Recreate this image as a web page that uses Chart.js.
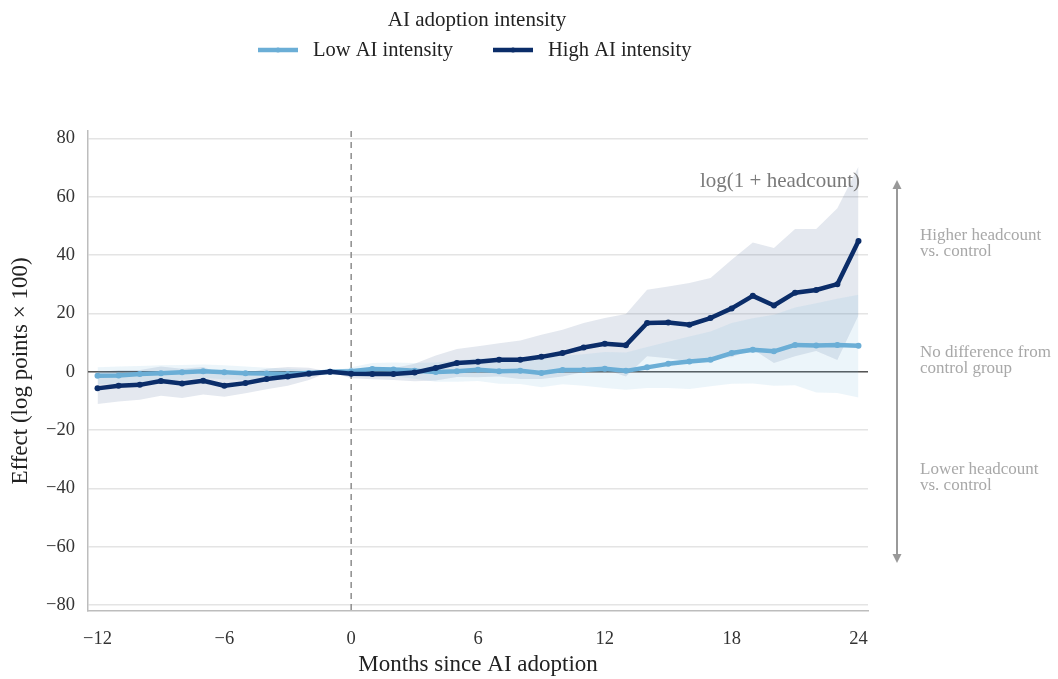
<!DOCTYPE html>
<html>
<head>
<meta charset="utf-8">
<script src="https://cdn.jsdelivr.net/npm/chart.js@4.4.1/dist/chart.umd.min.js"></script>
<style>
  html, body { margin: 0; padding: 0; background: #ffffff; }
  #wrap { width: 1058px; height: 679px; position: relative; }
</style>
</head>
<body>
<div id="wrap"><canvas id="c" width="1058" height="679"></canvas></div>
<script>
// Event-study estimates: months relative to AI adoption
const months = [-12, -11, -10, -9, -8, -7, -6, -5, -4, -3, -2, -1, 0, 1, 2, 3, 4, 5, 6, 7, 8, 9, 10, 11, 12, 13, 14, 15, 16, 17, 18, 19, 20, 21, 22, 23, 24];

// Low AI intensity: point estimate and 95% interval
const lowEst = [-1.4, -1.3, -0.8, -0.5, -0.2, 0.2, -0.2, -0.5, -0.6, -0.8, -0.4, 0, 0.2, 0.9, 0.8, 0.3, -0.1, 0.2, 0.7, 0.2, 0.3, -0.4, 0.6, 0.6, 1.0, 0.3, 1.5, 2.7, 3.5, 4.1, 6.4, 7.5, 7.0, 9.2, 9.0, 9.2, 8.9];
const lowUpper = [1.5, 1.8, 2.0, 2.2, 2.3, 2.5, 2.2, 1.8, 1.4, 1.0, 0.6, 0, 1.5, 3.0, 3.2, 3.0, 3.2, 3.8, 4.6, 4.5, 4.8, 4.5, 5.5, 6.0, 6.8, 6.6, 8.5, 10.3, 12.1, 13.8, 16.7, 18.3, 19.5, 22.0, 23.5, 25.0, 26.4];
const lowLower = [-4.3, -4.4, -3.6, -3.2, -2.7, -2.1, -2.6, -2.8, -2.6, -2.6, -1.4, 0, -1.1, -1.2, -1.6, -2.4, -3.4, -3.4, -3.2, -4.1, -4.2, -5.3, -4.3, -4.8, -5.6, -6.2, -5.6, -5.6, -5.9, -5.0, -4.1, -4.0, -4.8, -4.6, -7.1, -7.3, -8.8];

// High AI intensity: point estimate and 95% interval
const highEst = [-5.7, -4.8, -4.5, -3.2, -4.0, -3.1, -4.8, -3.9, -2.5, -1.6, -0.7, 0, -0.7, -0.8, -0.8, -0.3, 1.3, 3.0, 3.4, 4.1, 4.1, 5.1, 6.4, 8.3, 9.6, 9.1, 16.7, 16.9, 16.1, 18.4, 21.7, 26.0, 22.7, 27.1, 28.0, 30.0, 44.8];
const highUpper = [-0.3, 0.6, 0.6, 1.8, 1.0, 1.6, -1.0, -0.4, 1.0, 1.6, 1.4, 0, 0.8, 1.0, 1.2, 2.7, 5.6, 7.8, 8.7, 9.8, 10.7, 12.7, 14.4, 16.7, 18.4, 19.8, 28.1, 29.2, 30.4, 32.1, 38.4, 44.3, 42.4, 48.9, 48.9, 56.0, 70.3];
const highLower = [-11.1, -10.2, -9.6, -8.2, -9.0, -7.8, -8.6, -7.4, -6.0, -4.8, -2.8, 0, -2.2, -2.6, -2.8, -3.3, -3.0, -1.8, -1.9, -1.6, -2.5, -2.5, -1.6, -0.1, 0.8, -1.6, 5.3, 4.6, 3.5, 4.7, 5.0, 7.7, 3.0, 5.3, 7.1, 4.0, 19.3];

// Axis ticks
const xTicks = [-12, -6, 0, 6, 12, 18, 24];
const yTicks = [-80, -60, -40, -20, 0, 20, 40, 60, 80];

// Legend and annotation text
const legendTitle = 'AI adoption intensity';
const seriesNames = ['Low AI intensity', 'High AI intensity'];
const panelLabel = 'log(1 + headcount)';
const sideNotes = [
  { y: 40, lines: ['Higher headcount', 'vs. control'] },
  { y: 0, lines: ['No difference from', 'control group'] },
  { y: -40, lines: ['Lower headcount', 'vs. control'] }
];

const LOW_COLOR = '#6baed6';
const HIGH_COLOR = '#0b2d69';
const SERIF = '"Liberation Serif", "DejaVu Serif", serif';

const pts = (ys) => months.map((m, i) => ({ x: m, y: ys[i] }));
const minus = (v) => String(v).replace('-', '\u2212');

const decorations = {
  id: 'decorations',
  beforeDatasetsDraw(chart) {
    const { ctx, chartArea: a, scales: { x, y } } = chart;
    ctx.save();
    // reference line at zero effect
    const y0 = y.getPixelForValue(0);
    ctx.strokeStyle = '#555555';
    ctx.lineWidth = 1.5;
    ctx.beginPath();
    ctx.moveTo(a.left, y0);
    ctx.lineTo(a.right, y0);
    ctx.stroke();
    // adoption month marker
    const x0 = x.getPixelForValue(0);
    ctx.strokeStyle = '#8c8c8c';
    ctx.setLineDash([6, 5]);
    ctx.beginPath();
    ctx.moveTo(x0, a.top);
    ctx.lineTo(x0, a.bottom);
    ctx.stroke();
    ctx.restore();
  },
  afterDraw(chart) {
    const { ctx, chartArea: a, scales: { y } } = chart;
    ctx.save();
    // legend
    ctx.fillStyle = '#222222';
    ctx.font = '21px ' + SERIF;
    ctx.textAlign = 'center';
    ctx.textBaseline = 'middle';
    ctx.fillText(legendTitle, 477, 20);
    ctx.font = '20.5px ' + SERIF;
    const items = [
      { x: 258, color: LOW_COLOR, text: seriesNames[0] },
      { x: 493, color: HIGH_COLOR, text: seriesNames[1] }
    ];
    items.forEach(it => {
      ctx.strokeStyle = it.color;
      ctx.lineWidth = 4.5;
      ctx.beginPath();
      ctx.moveTo(it.x, 50);
      ctx.lineTo(it.x + 40, 50);
      ctx.stroke();
      ctx.fillStyle = it.color;
      ctx.beginPath();
      ctx.arc(it.x + 20, 50, 2.5, 0, Math.PI * 2);
      ctx.fill();
      ctx.fillStyle = '#222222';
      ctx.textAlign = 'left';
      ctx.fillText(it.text, it.x + 55, 51);
    });
    // panel label
    ctx.fillStyle = '#7a7a7a';
    ctx.font = '21px ' + SERIF;
    ctx.textAlign = 'right';
    ctx.fillText(panelLabel, a.right - 8, 181);
    // direction arrow
    const ax = 897, top = 180, bot = 563;
    ctx.strokeStyle = '#999999';
    ctx.fillStyle = '#999999';
    ctx.lineWidth = 2;
    ctx.beginPath();
    ctx.moveTo(ax, top + 6);
    ctx.lineTo(ax, bot - 6);
    ctx.stroke();
    ctx.beginPath();
    ctx.moveTo(ax, top); ctx.lineTo(ax - 4.5, top + 9); ctx.lineTo(ax + 4.5, top + 9); ctx.closePath();
    ctx.fill();
    ctx.beginPath();
    ctx.moveTo(ax, bot); ctx.lineTo(ax - 4.5, bot - 9); ctx.lineTo(ax + 4.5, bot - 9); ctx.closePath();
    ctx.fill();
    // side notes
    ctx.fillStyle = '#a8a8a8';
    ctx.font = '17px ' + SERIF;
    ctx.textAlign = 'left';
    sideNotes.forEach(n => {
      const cy = y.getPixelForValue(n.y);
      ctx.fillText(n.lines[0], 920, cy - 19);
      ctx.fillText(n.lines[1], 920, cy - 3);
    });
    ctx.restore();
  }
};

new Chart(document.getElementById('c'), {
  type: 'line',
  data: {
    datasets: [
      { label: 'high lower', data: pts(highLower), borderWidth: 0, pointRadius: 0, fill: false, order: 4 },
      { label: 'high upper', data: pts(highUpper), borderWidth: 0, pointRadius: 0, fill: '-1', backgroundColor: 'rgba(12,45,107,0.11)', order: 4 },
      { label: 'low lower', data: pts(lowLower), borderWidth: 0, pointRadius: 0, fill: false, order: 3 },
      { label: 'low upper', data: pts(lowUpper), borderWidth: 0, pointRadius: 0, fill: '-1', backgroundColor: 'rgba(107,174,214,0.13)', order: 3 },
      { label: seriesNames[0], data: pts(lowEst), borderColor: LOW_COLOR, backgroundColor: LOW_COLOR, borderWidth: 4.5, pointRadius: 3, pointBorderWidth: 0, fill: false, order: 2 },
      { label: seriesNames[1], data: pts(highEst), borderColor: HIGH_COLOR, backgroundColor: HIGH_COLOR, borderWidth: 4.5, pointRadius: 3, pointBorderWidth: 0, fill: false, order: 1 }
    ]
  },
  options: {
    responsive: false,
    animation: false,
    layout: { padding: { top: 131, right: 190, left: 0, bottom: 0 } },
    plugins: {
      legend: { display: false },
      tooltip: { enabled: false }
    },
    elements: { line: { tension: 0, borderJoinStyle: 'round', borderCapStyle: 'round' } },
    scales: {
      x: {
        type: 'linear',
        min: -12.45,
        max: 24.45,
        afterBuildTicks: (s) => { s.ticks = xTicks.map(v => ({ value: v })); },
        afterFit: (s) => { s.height = 68; },
        grid: { display: false },
        border: { display: true, color: '#bdbdbd', width: 1.5 },
        ticks: { padding: 9, color: '#333333', font: { family: SERIF, size: 18.5 }, callback: (v) => minus(v), maxRotation: 0 },
        title: { display: true, text: 'Months since AI adoption', color: '#222222', font: { family: SERIF, size: 23 }, padding: { top: 2, bottom: 0 } }
      },
      y: {
        min: -82,
        max: 82.5,
        afterBuildTicks: (s) => { s.ticks = yTicks.map(v => ({ value: v })); },
        afterFit: (s) => { s.width = 88; },
        grid: { color: '#e4e4e4', lineWidth: 1.5, drawTicks: false },
        border: { display: true, color: '#bdbdbd', width: 1.5 },
        ticks: { padding: 13, color: '#333333', font: { family: SERIF, size: 18.5 }, callback: (v) => minus(v) },
        title: { display: true, text: 'Effect (log points \u00d7 100)', color: '#222222', font: { family: SERIF, size: 23 }, padding: { top: 7, bottom: 0 } }
      }
    }
  },
  plugins: [decorations]
});
</script>
</body>
</html>
